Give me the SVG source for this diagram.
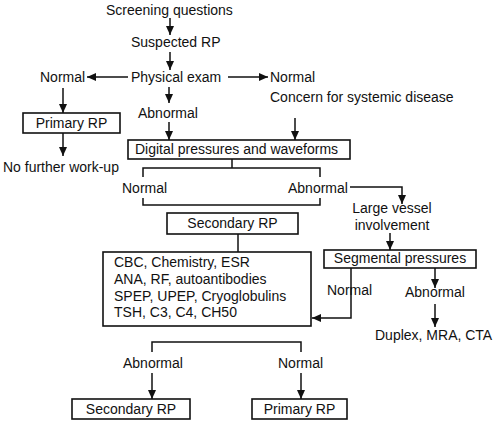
<svg xmlns="http://www.w3.org/2000/svg" width="500" height="423" viewBox="0 0 500 423">
<defs>
<marker id="ah" markerWidth="9" markerHeight="8" refX="9" refY="4" orient="auto" markerUnits="userSpaceOnUse">
<path d="M0,0 L9,4 L0,8 z" fill="#111"/>
</marker>
<style>
text{font-family:"Liberation Sans",Arial,sans-serif;font-size:14px;fill:#111}
.m{text-anchor:middle}
.box{fill:#fff;stroke:#111;stroke-width:1.6}
.c line,.c polyline{stroke:#111;stroke-width:1.5;fill:none}
.a{marker-end:url(#ah)}
</style>
</defs>
<rect width="500" height="423" fill="#fff"/>
<g class="c" id="connectors">
<line class="a" x1="170" y1="18" x2="170" y2="35"/>
<line class="a" x1="170" y1="52" x2="170" y2="70"/>
<line class="a" x1="128" y1="77" x2="87" y2="77"/>
<line class="a" x1="228" y1="77" x2="268" y2="77"/>
<line class="a" x1="169" y1="87" x2="169" y2="103"/>
<line class="a" x1="169" y1="122" x2="169" y2="140"/>
<line class="a" x1="295" y1="118" x2="295" y2="140"/>
<line class="a" x1="63" y1="88" x2="63" y2="113"/>
<line class="a" x1="63" y1="133" x2="63" y2="156"/>
<line x1="232" y1="159" x2="232" y2="168"/>
<polyline points="143,177 143,168 320,168 320,177"/>
<polyline points="143,198 143,205 320,205 320,198"/>
<polyline class="a" points="350,187 402,187 402,204"/>
<line class="a" x1="390" y1="233" x2="390" y2="250"/>
<line x1="238" y1="234" x2="238" y2="252"/>
<polyline class="a" points="351,268 351,318 312,318"/>
<line class="a" x1="435" y1="268" x2="435" y2="288"/>
<line class="a" x1="435" y1="304" x2="435" y2="327"/>
<polyline points="152,352 152,342 301,342 301,352"/>
<line class="a" x1="152" y1="373" x2="152" y2="399"/>
<line class="a" x1="301" y1="373" x2="301" y2="399"/>
</g>
<g id="screening"><text x="106" y="15">Screening questions</text></g>
<g id="suspected"><text x="131" y="47">Suspected RP</text></g>
<g id="physical"><text x="131" y="82">Physical exam</text></g>
<g id="normal1"><text x="40" y="82">Normal</text></g>
<g id="normal2"><text x="270" y="82">Normal</text><text x="270" y="102">Concern for systemic disease</text></g>
<g id="abnormal1"><text x="138" y="118">Abnormal</text></g>
<g id="primary1"><rect class="box" x="23" y="113" width="97" height="20"/><text class="m" x="71.5" y="128">Primary RP</text></g>
<g id="nofurther"><text x="3" y="172">No further work-up</text></g>
<g id="digital"><rect class="box" x="128" y="140" width="222" height="19"/><text x="135" y="154">Digital pressures and waveforms</text></g>
<g id="normal3"><text x="122" y="193">Normal</text></g>
<g id="abnormal2"><text x="288" y="193">Abnormal</text></g>
<g id="largevessel"><text class="m" x="392" y="213">Large vessel</text><text class="m" x="392" y="230">involvement</text></g>
<g id="secondary1"><rect class="box" x="167" y="213" width="131" height="21"/><text class="m" x="232.5" y="228">Secondary RP</text></g>
<g id="segmental"><rect class="box" x="324" y="250" width="152" height="18"/><text class="m" x="400" y="263">Segmental pressures</text></g>
<g id="labs"><rect class="box" x="103" y="252" width="208" height="74"/>
<text x="114" y="267">CBC, Chemistry, ESR</text>
<text x="114" y="284">ANA, RF, autoantibodies</text>
<text x="114" y="301">SPEP, UPEP, Cryoglobulins</text>
<text x="114" y="317">TSH, C3, C4, CH50</text></g>
<g id="normal4"><text x="327" y="295">Normal</text></g>
<g id="abnormal3"><text x="405" y="297">Abnormal</text></g>
<g id="duplex"><text x="375" y="340">Duplex, MRA, CTA</text></g>
<g id="abnormal4"><text x="123" y="368">Abnormal</text></g>
<g id="normal5"><text x="278" y="368">Normal</text></g>
<g id="secondary2"><rect class="box" x="72" y="399" width="118" height="20"/><text class="m" x="131" y="414">Secondary RP</text></g>
<g id="primary2"><rect class="box" x="252" y="399" width="95" height="20"/><text class="m" x="299.5" y="414">Primary RP</text></g>
</svg>
